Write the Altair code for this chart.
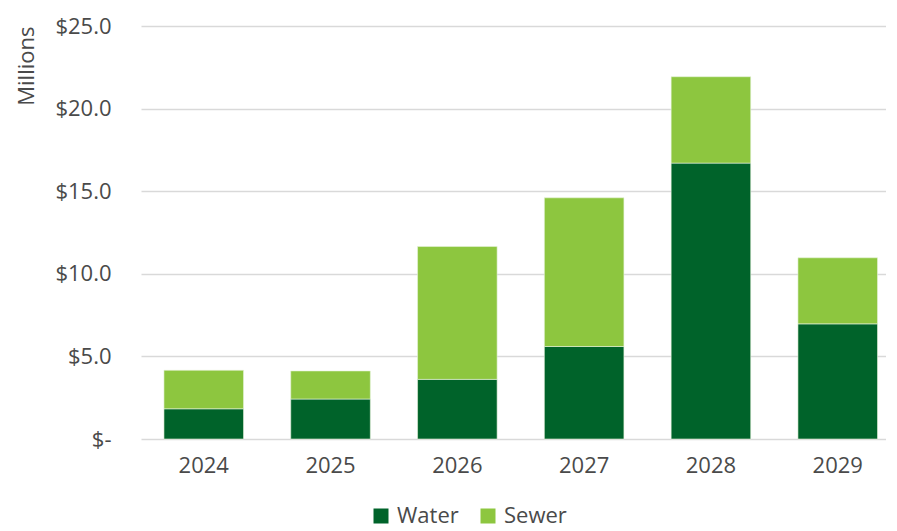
import altair as alt
import pandas as pd

years = ["2024", "2025", "2026", "2027", "2028", "2029"]
water = [1.83, 2.42, 3.61, 5.60, 16.70, 6.97]
sewer = [2.33, 1.70, 8.04, 9.00, 5.23, 4.00]
series = ["Water", "Sewer"]
colors = ["#00632A", "#8DC63F"]
y_ticks = [0, 5, 10, 15, 20, 25]

rows = []
for i, yr in enumerate(years):
    rows.append({"Year": yr, "Type": "Water", "Value": water[i], "ord": 0})
    rows.append({"Year": yr, "Type": "Sewer", "Value": sewer[i], "ord": 1})
df = pd.DataFrame(rows)

FONT = "Open Sans"
TXT = "#4a4a4a"

chart = alt.Chart(df).mark_bar(stroke="#e8f3dc", strokeWidth=0.6).encode(
    x=alt.X("Year:N", sort=years,
            scale=alt.Scale(paddingInner=0.3725, paddingOuter=0.124, align=0.73),
            axis=alt.Axis(title=None, labelAngle=0, ticks=False, tickSize=0, domain=False,
                          labelPadding=16, labelFontSize=22, labelFont=FONT, labelColor=TXT)),
    y=alt.Y("Value:Q", stack="zero",
            scale=alt.Scale(domain=[0, 25], nice=False),
            axis=alt.Axis(title="Millions", values=y_ticks, ticks=False, tickSize=0, domain=False,
                          labelExpr="datum.value == 0 ? '$-  ' : '$' + format(datum.value, '.1f')",
                          labelPadding=30, labelFontSize=22, labelFont=FONT, labelColor=TXT,
                          titleFontSize=22, titleFont=FONT, titleColor=TXT, titleFontWeight="normal",
                          titleAnchor="end", titlePadding=16,
                          gridColor="#d9d9d9", gridWidth=1.5)),
    color=alt.Color("Type:N",
                    scale=alt.Scale(domain=series, range=colors),
                    legend=alt.Legend(title=None, orient="none", legendX=229, legendY=479,
                                      direction="horizontal", symbolType="square",
                                      symbolSize=225, symbolStrokeWidth=0, labelFontSize=22,
                                      labelFont=FONT, labelColor=TXT, columnPadding=18,
                                      labelOffset=5, padding=0)),
    order=alt.Order("ord:Q"),
).properties(
    width=745, height=413,
    padding={"left": 7, "top": 7, "right": 0, "bottom": 2},
).configure_view(stroke=None)

chart.save("out.html", embed_options={"renderer": "svg", "actions": False})
